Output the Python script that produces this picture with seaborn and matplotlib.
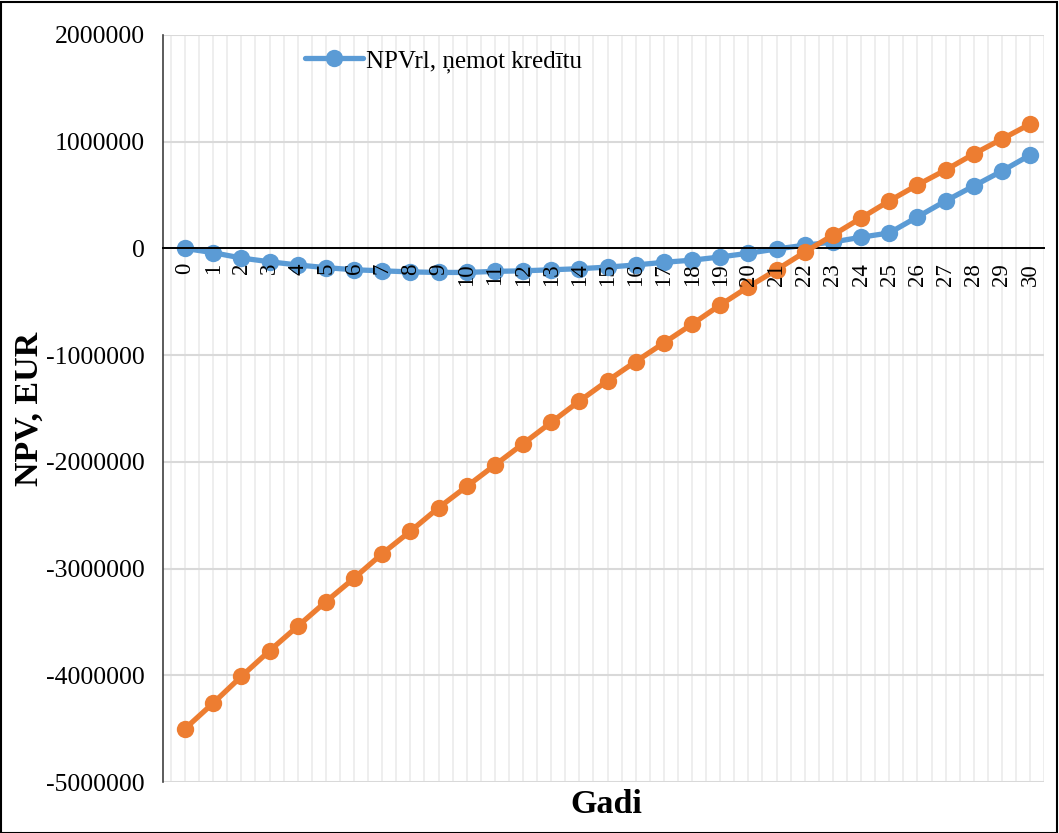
import numpy as np
import pandas as pd
import matplotlib
matplotlib.use("Agg")
import matplotlib.pyplot as plt
import seaborn as sns
from matplotlib.ticker import MultipleLocator

# ---------- data ----------
years = list(range(0, 31))
npv_credit = [0, -40000, -90000, -125000, -155000, -180000, -200000, -210000,
              -220000, -225000, -225000, -215000, -210000, -200000, -190000,
              -175000, -155000, -130000, -110000, -80000, -45000, -5000,
              30000, 60000, 105000, 145000, 295000, 445000, 585000, 725000,
              875000]
npv_other = [-4500000, -4260000, -4010000, -3770000, -3540000, -3310000,
             -3090000, -2860000, -2650000, -2430000, -2230000, -2030000,
             -1830000, -1630000, -1430000, -1240000, -1060000, -885000,
             -710000, -530000, -360000, -200000, -35000, 125000, 285000,
             445000, 595000, 735000, 885000, 1025000, 1165000]
legend_label = "NPVrl, ņemot kredītu"

df = pd.DataFrame({"Gadi": years, "blue": npv_credit, "orange": npv_other})

# ---------- style ----------
sns.set_style("white")
plt.rcParams["font.family"] = ["Liberation Serif", "DejaVu Serif"]
plt.rcParams["text.color"] = "black"
plt.rcParams["axes.labelcolor"] = "black"
plt.rcParams["ytick.labelcolor"] = "black"

fig = plt.figure(figsize=(10.59, 8.33), dpi=100)
ax = fig.add_axes([0.154, 0.0612, 0.832, 0.8968])

blue = "#5B9BD5"
orange = "#ED7D31"

sns.lineplot(data=df, x="Gadi", y="blue", ax=ax, color=blue, marker="o",
             markersize=12.5, markeredgewidth=0, linewidth=3.8,
             label=legend_label, zorder=2)
sns.lineplot(data=df, x="Gadi", y="orange", ax=ax, color=orange, marker="o",
             markersize=12.5, markeredgewidth=0, linewidth=3.8, legend=False,
             zorder=3)

ax.set_xlim(-0.78, 30.5)
ax.set_ylim(-5000000, 2000000)

# y axis
ax.yaxis.set_major_locator(MultipleLocator(1000000))
ax.yaxis.set_major_formatter(matplotlib.ticker.FuncFormatter(lambda v, p: f"{v:.0f}"))
ax.tick_params(axis="y", labelsize=18.5, direction="out", length=7,
               width=1.2, color="#404040", labelcolor="black", pad=6)

# x axis sits on zero, labels drawn on top of the lines
ax.set_xticks(years)
ax.set_xticklabels([])
ax.xaxis.set_minor_locator(MultipleLocator(0.5))
ax.spines["bottom"].set_position(("data", 0))
ax.spines["bottom"].set_color("black")
ax.spines["bottom"].set_linewidth(1.4)
ax.tick_params(axis="x", direction="inout", length=14, width=1.4, color="black")
ax.tick_params(axis="x", which="minor", length=0)
for yr in years:
    ax.annotate(str(yr), xy=(yr, 0), xytext=(0, -10.5),
                textcoords="offset points", rotation=90, ha="center",
                va="top", fontsize=16.5, color="black", zorder=6,
                annotation_clip=False)

ax.spines["top"].set_visible(False)
ax.spines["right"].set_visible(False)
ax.spines["left"].set_color("#404040")
ax.spines["left"].set_linewidth(1.2)

# grid
ax.grid(axis="y", which="major", color="#D9D9D9", linewidth=1.5)
ax.grid(axis="x", which="both", color="#EDEDED", linewidth=1.3)
ax.set_axisbelow(True)

ax.set_xlabel("")
ax.set_ylabel("NPV, EUR", fontsize=24.5, fontweight="bold", color="black")
ax.yaxis.set_label_coords(-0.134, 0.5)
fig.text(0.573, 0.034, "Gadi", fontsize=24.5, fontweight="bold",
         ha="center", va="center", color="black")

leg = ax.legend(loc="upper left", bbox_to_anchor=(0.15, 0.994), frameon=False,
                fontsize=18, handlelength=2.3, handletextpad=0.12,
                borderaxespad=0, labelcolor="black")

# outer chart border
fig.patches.append(plt.Rectangle((0.001, 0.0), 0.997, 0.998, transform=fig.transFigure,
                                 fill=False, edgecolor="black", linewidth=1.5))

fig.savefig("out.png", dpi=100)
